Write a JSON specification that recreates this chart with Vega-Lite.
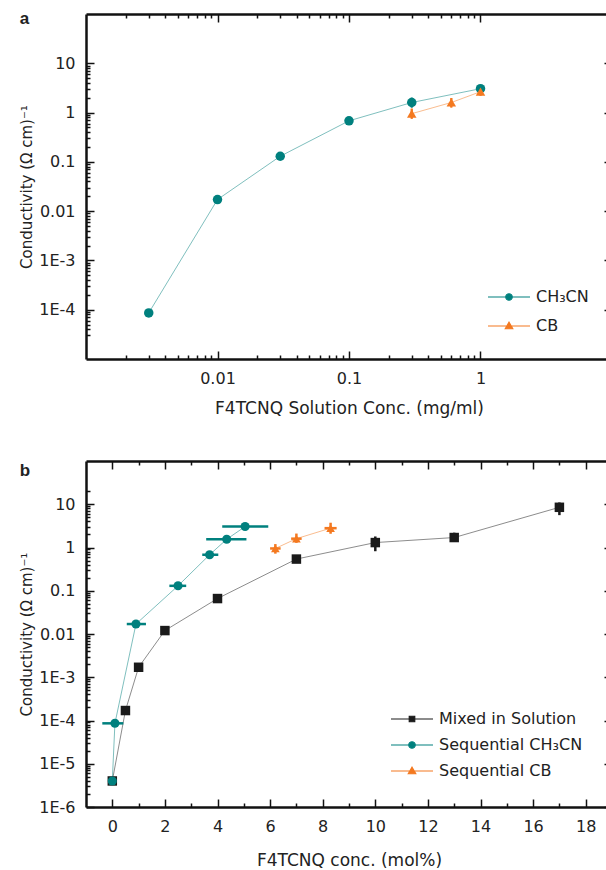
{
  "$schema": "https://vega.github.io/schema/vega-lite/v6.json",
  "padding": {"left": 19, "top": 10, "right": 0, "bottom": 0},
  "bounds": "flush",
  "spacing": 102,
  "datasets": {
    "a": [
      {"s": "CH₃CN", "x": 0.003, "y": 8.6e-5},
      {"s": "CH₃CN", "x": 0.01, "y": 0.0172},
      {"s": "CH₃CN", "x": 0.03, "y": 0.13},
      {"s": "CH₃CN", "x": 0.1, "y": 0.68, "lo": 0.6, "hi": 0.77},
      {"s": "CH₃CN", "x": 0.3, "y": 1.6, "lo": 1.27, "hi": 2.0},
      {"s": "CH₃CN", "x": 1, "y": 3.05, "lo": 2.6, "hi": 3.5},
      {"s": "CB", "x": 0.3, "y": 0.95, "lo": 0.75, "hi": 1.2},
      {"s": "CB", "x": 0.6, "y": 1.6, "lo": 1.27, "hi": 1.97},
      {"s": "CB", "x": 1, "y": 2.65, "lo": 2.2, "hi": 3.3}
    ],
    "b": [
      {"s": "Mixed in Solution", "x": 0, "y": 4e-6},
      {"s": "Mixed in Solution", "x": 0.5, "y": 1.7e-4},
      {"s": "Mixed in Solution", "x": 1, "y": 1.7e-3},
      {"s": "Mixed in Solution", "x": 2, "y": 0.012},
      {"s": "Mixed in Solution", "x": 4, "y": 0.066, "lo": 0.053, "hi": 0.082},
      {"s": "Mixed in Solution", "x": 7, "y": 0.54},
      {"s": "Mixed in Solution", "x": 10, "y": 1.3, "lo": 0.82, "hi": 1.8},
      {"s": "Mixed in Solution", "x": 13, "y": 1.7, "lo": 1.34, "hi": 2.2},
      {"s": "Mixed in Solution", "x": 17, "y": 8.5, "lo": 5.6, "hi": 11},
      {"s": "Sequential CH₃CN", "x": 0, "y": 4e-6},
      {"s": "Sequential CH₃CN", "x": 0.1, "y": 8.6e-5, "xlo": -0.38, "xhi": 0.42},
      {"s": "Sequential CH₃CN", "x": 0.9, "y": 0.017, "xlo": 0.55, "xhi": 1.28},
      {"s": "Sequential CH₃CN", "x": 2.5, "y": 0.13, "xlo": 2.17, "xhi": 2.81},
      {"s": "Sequential CH₃CN", "x": 3.7, "y": 0.68, "xlo": 3.42, "xhi": 4.03},
      {"s": "Sequential CH₃CN", "x": 4.35, "y": 1.55, "xlo": 3.57, "xhi": 5.1},
      {"s": "Sequential CH₃CN", "x": 5.05, "y": 3.05, "xlo": 4.18, "xhi": 5.93},
      {"s": "Sequential CB", "x": 6.2, "y": 0.95, "lo": 0.72, "hi": 1.2, "xlo": 6.0, "xhi": 6.4},
      {"s": "Sequential CB", "x": 7.0, "y": 1.6, "lo": 1.28, "hi": 2.1, "xlo": 6.8, "xhi": 7.2},
      {"s": "Sequential CB", "x": 8.3, "y": 2.8, "lo": 2.08, "hi": 3.74, "xlo": 8.07, "xhi": 8.53}
    ]
  },
  "config": {
    "font": "DejaVu Sans",
    "view": {"stroke": null},
    "axis": {
      "grid": false, "domainColor": "#111", "domainWidth": 2.5,
      "tickColor": "#111", "tickWidth": 1.5,
      "labelFont": "DejaVu Sans", "labelFontSize": 16, "labelColor": "#222",
      "titleFont": "DejaVu Sans", "titleFontSize": 17, "titleFontWeight": "normal", "titleColor": "#222",
      "labelPadding": 19, "labelOverlap": false, "labelFlush": false
    },
    "axisLeft": {"titleFontSize": 15},
    "legend": {"labelFont": "DejaVu Sans", "labelFontSize": 16, "labelColor": "#222"}
  },
  "resolve": {
    "scale": {"color": "independent", "fill": "independent", "shape": "independent", "size": "independent", "stroke": "independent", "x": "independent", "y": "independent"},
    "legend": {"color": "independent", "fill": "independent", "shape": "independent", "size": "independent", "stroke": "independent"}
  },
  "vconcat": [
    {
      "width": 526, "height": 345,
      "title": {"text": "a", "anchor": "start", "frame": "bounds", "fontSize": 17, "fontWeight": "bold", "font": "Liberation Sans", "color": "#222", "offset": -9, "dy": 19, "baseline": "alphabetic"},
      "data": {"name": "a"},
      "resolve": {"axis": {"x": "independent", "y": "independent"}, "scale": {"color": "independent", "shape": "independent", "fill": "independent"}},
      "layer": [
        {
          "mark": {"type": "line", "strokeWidth": 1, "opacity": 0.5},
          "encoding": {
            "x": {"field": "x", "type": "quantitative", "scale": {"type": "log", "domain": [0.0015, 2]},
              "axis": {"orient": "bottom", "title": "F4TCNQ Solution Conc. (mg/ml)", "titlePadding": 14,
                "values": [0.01, 0.1, 1], "format": "~g", "tickSize": -8}},
            "y": {"field": "y", "type": "quantitative", "scale": {"type": "log", "domain": [3e-5, 20]},
              "axis": {"orient": "left", "title": "Conductivity (Ω cm)⁻¹", "titlePadding": 4,
                "values": [1e-4, 0.001, 0.01, 0.1, 1, 10], "tickSize": -8,
                "labelExpr": "datum.value >= 0.01 ? format(datum.value, '~g') : '1E' + round(log(datum.value)/LN10)"}},
            "stroke": {"field": "s", "type": "nominal", "scale": {"domain": ["CB", "CH₃CN"], "range": ["#f47920", "#00807e"]}, "legend": null}
          }
        },
        {
          "transform": [{"filter": "isValid(datum.lo)"}],
          "mark": {"type": "rule", "strokeWidth": 2},
          "encoding": {
            "x": {"field": "x", "type": "quantitative",
              "axis": {"orient": "bottom", "title": null, "labels": false, "domain": false, "tickSize": -4,
                "values": [0.002,0.003,0.004,0.005,0.006,0.007,0.008,0.009,0.02,0.03,0.04,0.05,0.06,0.07,0.08,0.09,0.2,0.3,0.4,0.5,0.6,0.7,0.8,0.9]}},
            "y": {"field": "lo", "type": "quantitative",
              "axis": {"orient": "left", "title": null, "labels": false, "domain": false, "tickSize": -4,
                "values": [3e-5,4e-5,5e-5,6e-5,7e-5,8e-5,9e-5,2e-4,3e-4,4e-4,5e-4,6e-4,7e-4,8e-4,9e-4,0.002,0.003,0.004,0.005,0.006,0.007,0.008,0.009,0.02,0.03,0.04,0.05,0.06,0.07,0.08,0.09,0.2,0.3,0.4,0.5,0.6,0.7,0.8,0.9,2,3,4,5,6,7,8,9]}},
            "y2": {"field": "hi"},
            "stroke": {"field": "s", "type": "nominal", "legend": null}
          }
        },
        {
          "transform": [{"filter": "isValid(datum.lo)"}],
          "mark": {"type": "rule", "strokeWidth": 2},
          "encoding": {
            "x": {"field": "x", "type": "quantitative",
              "axis": {"orient": "top", "title": null, "labels": false, "domain": false, "tickSize": -4,
                "values": [0.002,0.003,0.004,0.005,0.006,0.007,0.008,0.009,0.02,0.03,0.04,0.05,0.06,0.07,0.08,0.09,0.2,0.3,0.4,0.5,0.6,0.7,0.8,0.9]}},
            "y": {"field": "lo", "type": "quantitative",
              "axis": {"orient": "right", "title": null, "labels": false, "domain": false, "tickSize": -4,
                "values": [3e-5,4e-5,5e-5,6e-5,7e-5,8e-5,9e-5,2e-4,3e-4,4e-4,5e-4,6e-4,7e-4,8e-4,9e-4,0.002,0.003,0.004,0.005,0.006,0.007,0.008,0.009,0.02,0.03,0.04,0.05,0.06,0.07,0.08,0.09,0.2,0.3,0.4,0.5,0.6,0.7,0.8,0.9,2,3,4,5,6,7,8,9]}},
            "y2": {"field": "hi"},
            "stroke": {"field": "s", "type": "nominal", "legend": null}
          }
        },
        {
          "mark": {"type": "point", "filled": true, "size": 90, "opacity": 1},
          "encoding": {
            "x": {"field": "x", "type": "quantitative",
              "axis": {"orient": "top", "title": null, "labels": false, "tickSize": -8, "values": [0.01, 0.1, 1]}},
            "y": {"field": "y", "type": "quantitative",
              "axis": {"orient": "right", "title": null, "labels": false, "tickSize": -8, "values": [1e-4, 0.001, 0.01, 0.1, 1, 10]}},
            "color": {"field": "s", "type": "nominal", "scale": {"domain": ["CH₃CN", "CB"], "range": ["#00807e", "#f47920"]}, "legend": null},
            "shape": {"field": "s", "type": "nominal", "scale": {"domain": ["CH₃CN", "CB"], "range": ["circle", "triangle-up"]}, "legend": null}
          }
        },
        {
          "transform": [{"filter": "false"}],
          "mark": {"type": "point", "filled": false, "opacity": 1, "strokeWidth": 1.2},
          "encoding": {
            "color": {"field": "s", "type": "nominal", "scale": {"domain": ["CH₃CN", "CB"], "range": ["#00807e", "#f47920"]},
              "legend": {"title": null, "orient": "none", "legendX": 415, "legendY": 275, "padding": 0, "symbolSize": 100, "labelOffset": 19, "rowPadding": 13, "symbolStrokeWidth": 1.2, "symbolOpacity": 1}},
            "fill": {"field": "s", "type": "nominal", "scale": {"domain": ["CH₃CN", "CB"], "range": ["#00807e", "#f47920"]}},
            "shape": {"field": "s", "type": "nominal", "scale": {"domain": ["CH₃CN", "CB"], "range": [
              "M-4.2,0H4.2M0.65,0A0.65,0.65,0,1,1,-0.65,0A0.65,0.65,0,1,1,0.65,0Z",
              "M-4.2,0H4.2M-0.75,0.55L0,-0.75L0.75,0.55Z"]}}
          }
        }
      ]
    },
    {
      "width": 526, "height": 346,
      "title": {"text": "b", "anchor": "start", "frame": "bounds", "fontSize": 17, "fontWeight": "bold", "font": "Liberation Sans", "color": "#222", "offset": -9, "dy": 24, "baseline": "alphabetic"},
      "data": {"name": "b"},
      "resolve": {"axis": {"x": "independent", "y": "independent"}, "scale": {"color": "independent", "shape": "independent", "fill": "independent"}},
      "layer": [
        {
          "mark": {"type": "line", "strokeWidth": 1, "opacity": 0.5},
          "encoding": {
            "x": {"field": "x", "type": "quantitative", "scale": {"domain": [-1, 19], "nice": false, "zero": false},
              "axis": {"orient": "bottom", "title": "F4TCNQ conc. (mol%)", "titlePadding": 18,
                "values": [0, 2, 4, 6, 8, 10, 12, 14, 16, 18], "format": "d", "tickSize": -8}},
            "y": {"field": "y", "type": "quantitative", "scale": {"type": "log", "domain": [1e-6, 22]},
              "axis": {"orient": "left", "title": "Conductivity (Ω cm)⁻¹", "titlePadding": 4,
                "values": [1e-6, 1e-5, 1e-4, 0.001, 0.01, 0.1, 1, 10], "tickSize": -8,
                "labelExpr": "datum.value >= 0.01 ? format(datum.value, '~g') : '1E' + round(log(datum.value)/LN10)"}},
            "stroke": {"field": "s", "type": "nominal", "scale": {"domain": ["Sequential CB", "Sequential CH₃CN", "Mixed in Solution"], "range": ["#f47920", "#00807e", "#1a1a1a"]}, "legend": null}
          }
        },
        {
          "transform": [{"filter": "isValid(datum.lo)"}],
          "mark": {"type": "rule", "strokeWidth": 2.5},
          "encoding": {
            "x": {"field": "x", "type": "quantitative",
              "axis": {"orient": "bottom", "title": null, "labels": false, "domain": false, "tickSize": -4,
                "values": [1, 3, 5, 7, 9, 11, 13, 15, 17]}},
            "y": {"field": "lo", "type": "quantitative",
              "axis": {"orient": "left", "title": null, "labels": false, "domain": false, "tickSize": -4,
                "values": [2e-6,3e-6,4e-6,5e-6,6e-6,7e-6,8e-6,9e-6,2e-5,3e-5,4e-5,5e-5,6e-5,7e-5,8e-5,9e-5,2e-4,3e-4,4e-4,5e-4,6e-4,7e-4,8e-4,9e-4,0.002,0.003,0.004,0.005,0.006,0.007,0.008,0.009,0.02,0.03,0.04,0.05,0.06,0.07,0.08,0.09,0.2,0.3,0.4,0.5,0.6,0.7,0.8,0.9,2,3,4,5,6,7,8,9,20]}},
            "y2": {"field": "hi"},
            "stroke": {"field": "s", "type": "nominal", "legend": null}
          }
        },
        {
          "transform": [{"filter": "isValid(datum.xlo)"}],
          "mark": {"type": "rule", "strokeWidth": 2.5},
          "encoding": {
            "x": {"field": "xlo", "type": "quantitative",
              "axis": {"orient": "top", "title": null, "labels": false, "tickSize": -8, "values": [0, 2, 4, 6, 8, 10, 12, 14, 16, 18]}},
            "x2": {"field": "xhi"},
            "y": {"field": "y", "type": "quantitative",
              "axis": {"orient": "right", "title": null, "labels": false, "tickSize": -8, "values": [1e-6, 1e-5, 1e-4, 0.001, 0.01, 0.1, 1, 10]}},
            "stroke": {"field": "s", "type": "nominal", "legend": null}
          }
        },
        {
          "mark": {"type": "point", "filled": true, "opacity": 1},
          "encoding": {
            "x": {"field": "x", "type": "quantitative",
              "axis": {"orient": "top", "title": null, "labels": false, "domain": false, "tickSize": -4,
                "values": [1, 3, 5, 7, 9, 11, 13, 15, 17]}},
            "y": {"field": "y", "type": "quantitative",
              "axis": {"orient": "right", "title": null, "labels": false, "domain": false, "tickSize": -4,
                "values": [2e-6,3e-6,4e-6,5e-6,6e-6,7e-6,8e-6,9e-6,2e-5,3e-5,4e-5,5e-5,6e-5,7e-5,8e-5,9e-5,2e-4,3e-4,4e-4,5e-4,6e-4,7e-4,8e-4,9e-4,0.002,0.003,0.004,0.005,0.006,0.007,0.008,0.009,0.02,0.03,0.04,0.05,0.06,0.07,0.08,0.09,0.2,0.3,0.4,0.5,0.6,0.7,0.8,0.9,2,3,4,5,6,7,8,9,20]}},
            "color": {"field": "s", "type": "nominal", "scale": {"domain": ["Mixed in Solution", "Sequential CH₃CN", "Sequential CB"], "range": ["#1a1a1a", "#00807e", "#f47920"]}, "legend": null},
            "shape": {"field": "s", "type": "nominal", "scale": {"domain": ["Mixed in Solution", "Sequential CH₃CN", "Sequential CB"], "range": ["square", "circle", "triangle-up"]}, "legend": null},
            "size": {"field": "s", "type": "nominal", "scale": {"domain": ["Sequential CB", "Sequential CH₃CN", "Mixed in Solution"], "range": [75, 90, 55]}, "legend": null}
          }
        },
        {
          "transform": [{"filter": "false"}],
          "mark": {"type": "point", "filled": false, "opacity": 1, "strokeWidth": 1.2},
          "encoding": {
            "color": {"field": "s", "type": "nominal", "scale": {"domain": ["Mixed in Solution", "Sequential CH₃CN", "Sequential CB"], "range": ["#1a1a1a", "#00807e", "#f47920"]},
              "legend": {"title": null, "orient": "none", "legendX": 318, "legendY": 250, "padding": 0, "symbolSize": 100, "labelOffset": 19, "rowPadding": 10, "symbolStrokeWidth": 1.2, "symbolOpacity": 1}},
            "fill": {"field": "s", "type": "nominal", "scale": {"domain": ["Mixed in Solution", "Sequential CH₃CN", "Sequential CB"], "range": ["#1a1a1a", "#00807e", "#f47920"]}},
            "shape": {"field": "s", "type": "nominal", "scale": {"domain": ["Mixed in Solution", "Sequential CH₃CN", "Sequential CB"], "range": [
              "M-4.2,0H4.2M-0.55,-0.55H0.55V0.55H-0.55Z",
              "M-4.2,0H4.2M0.65,0A0.65,0.65,0,1,1,-0.65,0A0.65,0.65,0,1,1,0.65,0Z",
              "M-4.2,0H4.2M-0.75,0.55L0,-0.75L0.75,0.55Z"]}}
          }
        }
      ]
    }
  ]
}
